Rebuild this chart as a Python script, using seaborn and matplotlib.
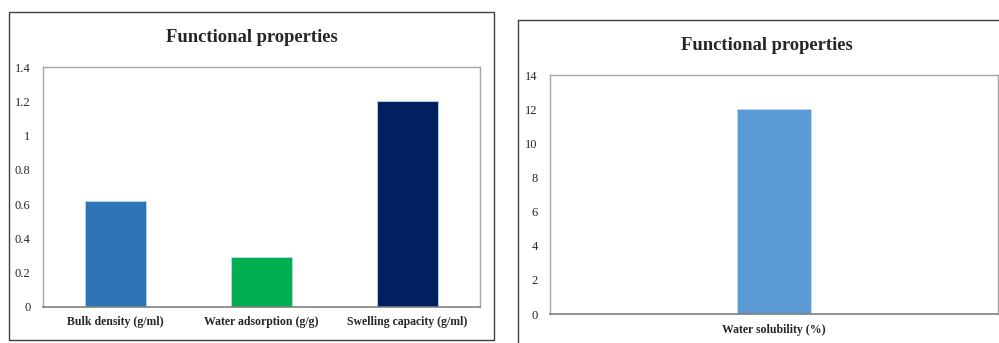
import matplotlib
matplotlib.use("Agg")
import matplotlib.pyplot as plt
from matplotlib.patches import Rectangle
from matplotlib.lines import Line2D
import seaborn as sns
import pandas as pd

# data
props = ["Bulk density (g/ml)", "Water adsorption (g/g)", "Swelling capacity (g/ml)"]
prop_vals = [0.62, 0.29, 1.2]
prop_colors = ["#2E75B6", "#00B050", "#002060"]

sol_cat = ["Water solubility (%)"]
sol_vals = [12]
sol_colors = ["#5B9BD5"]

left_ticks = [0, 0.2, 0.4, 0.6, 0.8, 1, 1.2, 1.4]
left_ticklabels = ["0", "0.2", "0.4", "0.6", "0.8", "1", "1.2", "1.4"]
right_ticks = [0, 2, 4, 6, 8, 10, 12, 14]

sns.set_style("white")
plt.rcParams['font.family'] = ['Liberation Serif', 'DejaVu Serif']

fig = plt.figure(figsize=(9.99, 3.43), dpi=100)

# outer chart boxes
fig.add_artist(Rectangle((0.009, 0.0087), 0.4855, 0.956, transform=fig.transFigure,
                         fill=False, edgecolor="#404040", lw=1.0))
fig.add_artist(Line2D([0.5185, 0.5185], [0.0, 0.9417], transform=fig.transFigure,
                      color="#404040", lw=1.0))
fig.add_artist(Line2D([0.5185, 1.0], [0.9417, 0.9417], transform=fig.transFigure,
                      color="#404040", lw=1.0))

ax1 = fig.add_axes([0.0430, 0.1058, 0.4374, 0.698])
ax2 = fig.add_axes([0.5506, 0.0845, 0.4484, 0.6968])

df1 = pd.DataFrame({"prop": props, "val": prop_vals})
sns.barplot(data=df1, x="prop", y="val", hue="prop", palette=prop_colors,
            width=0.42, legend=False, ax=ax1, saturation=1,
            edgecolor="#BDD7EE", linewidth=0.6)
ax1.set_ylim(0, 1.4)
ax1.set_xlim(-0.5, 2.5)
ax1.set_yticks(left_ticks)
ax1.set_yticklabels(left_ticklabels)

df2 = pd.DataFrame({"cat": sol_cat, "val": sol_vals})
sns.barplot(data=df2, x="cat", y="val", hue="cat", palette=sol_colors,
            width=0.167, legend=False, ax=ax2, saturation=1,
            edgecolor="#BDD7EE", linewidth=0.6)
ax2.set_ylim(0, 14)
ax2.set_xlim(-0.5, 0.5)
ax2.set_yticks(right_ticks)

for ax in (ax1, ax2):
    ax.set_xlabel("")
    ax.set_ylabel("")
    for s in ax.spines.values():
        s.set_color("#A6A6A6")
        s.set_linewidth(1.0)
    ax.spines["bottom"].set_color("#7F7F7F")
    ax.spines["bottom"].set_linewidth(1.2)
    ax.tick_params(axis="both", length=0, labelsize=9, colors="#262626")
    ax.tick_params(axis="y", pad=9)
    ax.tick_params(axis="x", pad=7)
    for lab in ax.get_xticklabels():
        lab.set_fontweight("bold")
        lab.set_fontsize(8.5)

fig.text(252 / 999, 1 - 38 / 343, "Functional properties", ha="center", va="center",
         fontsize=13.4, fontweight="bold")
fig.text(767 / 999, 1 - 45 / 343, "Functional properties", ha="center", va="center",
         fontsize=13.4, fontweight="bold")

fig.savefig("out.png", dpi=100)
